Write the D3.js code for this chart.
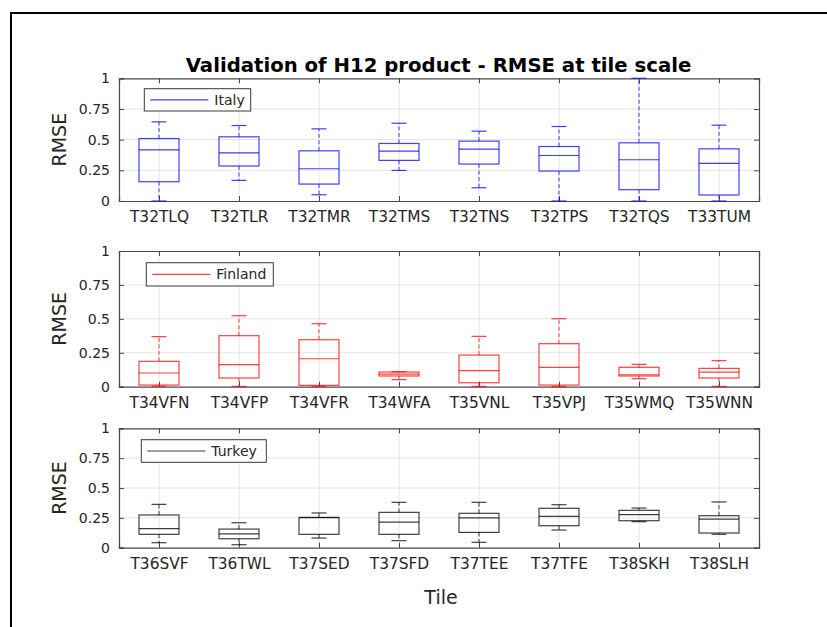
<!DOCTYPE html>
<html>
<head>
<meta charset="utf-8">
<script src="https://cdn.jsdelivr.net/npm/d3@7/dist/d3.min.js"></script>
<style>
  html, body { margin: 0; padding: 0; background: #fff; }
  svg { display: block; font-family: "DejaVu Sans", sans-serif; }
</style>
</head>
<body>
<script>
// ---------------- DATA ----------------
const titleText = "Validation of H12 product - RMSE at tile scale";
const yLabel = "RMSE";
const xLabel = "Tile";
const yTicks = [0, 0.25, 0.5, 0.75, 1];
const yTickLabels = ["0", "0.25", "0.5", "0.75", "1"];

const italyTiles = ["T32TLQ", "T32TLR", "T32TMR", "T32TMS", "T32TNS", "T32TPS", "T32TQS", "T33TUM"];
// [lower whisker, Q1, median, Q3, upper whisker]
const italyStats = [
  [0.00, 0.157, 0.417, 0.509, 0.645],
  [0.168, 0.285, 0.393, 0.523, 0.615],
  [0.051, 0.138, 0.263, 0.409, 0.588],
  [0.249, 0.331, 0.407, 0.469, 0.634],
  [0.108, 0.301, 0.423, 0.488, 0.569],
  [0.00, 0.244, 0.371, 0.444, 0.607],
  [0.00, 0.092, 0.336, 0.474, 1.00],
  [0.00, 0.049, 0.306, 0.425, 0.618]
];

const finlandTiles = ["T34VFN", "T34VFP", "T34VFR", "T34WFA", "T35VNL", "T35VPJ", "T35WMQ", "T35WNN"];
const finlandStats = [
  [0.004, 0.012, 0.101, 0.187, 0.369],
  [0.002, 0.064, 0.162, 0.376, 0.523],
  [0.003, 0.010, 0.206, 0.346, 0.464],
  [0.052, 0.079, 0.093, 0.108, 0.110],
  [0.002, 0.029, 0.118, 0.233, 0.371],
  [0.002, 0.012, 0.143, 0.317, 0.501],
  [0.059, 0.079, 0.088, 0.143, 0.165],
  [0.002, 0.064, 0.108, 0.135, 0.192]
];

const turkeyTiles = ["T36SVF", "T36TWL", "T37SED", "T37SFD", "T37TEE", "T37TFE", "T38SKH", "T38SLH"];
const turkeyStats = [
  [0.042, 0.112, 0.159, 0.274, 0.363],
  [0.025, 0.075, 0.115, 0.156, 0.209],
  [0.081, 0.112, 0.251, 0.254, 0.291],
  [0.059, 0.112, 0.215, 0.296, 0.380],
  [0.045, 0.128, 0.249, 0.288, 0.380],
  [0.148, 0.184, 0.263, 0.330, 0.360],
  [0.218, 0.226, 0.277, 0.313, 0.332],
  [0.112, 0.123, 0.240, 0.268, 0.383]
];

const countries = ["Italy", "Finland", "Turkey"];

// ---------------- LAYOUT / STYLE ----------------
const W = 827, H = 627;
const panels = [
  { tiles: italyTiles, stats: italyStats, name: countries[0], color: "#0000ff", top: 78.3, bottom: 201,
    legend: { x: 144.3, y: 88.7, w: 106.4, h: 22.3 } },
  { tiles: finlandTiles, stats: finlandStats, name: countries[1], color: "#ff0000", top: 251, bottom: 386.7,
    legend: { x: 146.3, y: 262.7, w: 127, h: 23.3 } },
  { tiles: turkeyTiles, stats: turkeyStats, name: countries[2], color: "#000000", top: 428.3, bottom: 547.7,
    legend: { x: 141.3, y: 439.7, w: 125, h: 22.6 } }
];
const xLeft = 119, xRight = 759;
const axisColor = "#4a4a4a";
const textColor = "#262626";
const gridColor = "#e4e4e4";

const svg = d3.select("body").append("svg").attr("width", W).attr("height", H);
svg.append("rect").attr("width", W).attr("height", H).attr("fill", "#fff");

// figure frame
svg.append("rect").attr("x", 11).attr("y", 13).attr("width", 840).attr("height", 640)
  .attr("fill", "none").attr("stroke", "#000").attr("stroke-width", 2);

panels.forEach((p, pi) => {
  const x = d3.scalePoint().domain(p.tiles).range([xLeft, xRight]).padding(0.5);
  const y = d3.scaleLinear().domain([0, 1]).range([p.bottom, p.top]);
  const g = svg.append("g");

  // grid
  g.append("g").selectAll("line").data(yTicks.slice(1, -1)).join("line")
    .attr("x1", xLeft).attr("x2", xRight).attr("y1", d => y(d)).attr("y2", d => y(d))
    .attr("stroke", gridColor).attr("stroke-width", 1);
  g.append("g").selectAll("line").data(p.tiles).join("line")
    .attr("x1", d => x(d)).attr("x2", d => x(d)).attr("y1", p.top).attr("y2", p.bottom)
    .attr("stroke", gridColor).attr("stroke-width", 1);

  // axes
  const yAxisL = d3.axisLeft(y).tickValues(yTicks).tickFormat((d, i) => yTickLabels[i]).tickSize(-5).tickPadding(9);
  const yAxisR = d3.axisRight(y).tickValues(yTicks).tickFormat("").tickSize(-5);
  const xAxisB = d3.axisBottom(x).tickSize(-5).tickPadding(10);
  const xAxisT = d3.axisTop(x).tickFormat("").tickSize(-5);

  const gl = g.append("g").attr("transform", `translate(${xLeft},0)`).call(yAxisL);
  const gr = g.append("g").attr("transform", `translate(${xRight},0)`).call(yAxisR);
  const gb = g.append("g").attr("transform", `translate(0,${p.bottom})`).call(xAxisB);
  const gt = g.append("g").attr("transform", `translate(0,${p.top})`).call(xAxisT);
  [gl, gr, gb, gt].forEach(a => {
    a.select(".domain").attr("stroke", axisColor).attr("stroke-width", 1.2);
    a.selectAll(".tick line").attr("stroke", axisColor).attr("stroke-width", 1);
  });
  gl.selectAll(".tick text").attr("font-size", 14).attr("fill", textColor).attr("font-family", "DejaVu Sans");
  gb.selectAll(".tick text").attr("font-size", 15.4).attr("fill", textColor).attr("font-family", "DejaVu Sans")
    .attr("dy", "0.71em");

  // y label
  g.append("text")
    .attr("transform", `translate(65.5,${(p.top + p.bottom) / 2}) rotate(-90)`)
    .attr("text-anchor", "middle").attr("font-size", 19).attr("fill", textColor)
    .text(yLabel);

  // box plots
  const halfBox = 20, halfCap = 7.5;
  const boxes = g.append("g").selectAll("g").data(p.tiles.map((t, i) => ({ t, s: p.stats[i] }))).join("g");
  boxes.each(function (d) {
    const b = d3.select(this);
    const cx = x(d.t);
    const [lo, q1, med, q3, hi] = d.s;
    const col = p.color;
    b.append("line").attr("x1", cx).attr("x2", cx).attr("y1", y(q3)).attr("y2", y(hi))
      .attr("stroke", col).attr("stroke-width", 1).attr("stroke-dasharray", "4,2.5").attr("opacity", 0.75);
    b.append("line").attr("x1", cx).attr("x2", cx).attr("y1", y(q1)).attr("y2", y(lo))
      .attr("stroke", col).attr("stroke-width", 1).attr("stroke-dasharray", "4,2.5").attr("opacity", 0.75);
    b.append("line").attr("x1", cx - halfCap).attr("x2", cx + halfCap).attr("y1", y(hi)).attr("y2", y(hi))
      .attr("stroke", col).attr("stroke-width", 1.2).attr("opacity", 0.75);
    b.append("line").attr("x1", cx - halfCap).attr("x2", cx + halfCap).attr("y1", y(lo)).attr("y2", y(lo))
      .attr("stroke", col).attr("stroke-width", 1.2).attr("opacity", 0.75);
    b.append("rect").attr("x", cx - halfBox).attr("width", 2 * halfBox)
      .attr("y", y(q3)).attr("height", y(q1) - y(q3))
      .attr("fill", "none").attr("stroke", col).attr("stroke-width", 1.2).attr("opacity", 0.75);
    b.append("line").attr("x1", cx - halfBox).attr("x2", cx + halfBox).attr("y1", y(med)).attr("y2", y(med))
      .attr("stroke", col).attr("stroke-width", 1.2).attr("opacity", 0.75);
  });

  // legend
  const L = p.legend;
  const lg = g.append("g");
  lg.append("rect").attr("x", L.x).attr("y", L.y).attr("width", L.w).attr("height", L.h)
    .attr("fill", "#fff").attr("stroke", "#3a3a3a").attr("stroke-width", 1);
  lg.append("line").attr("x1", L.x + 6).attr("x2", L.x + 64).attr("y1", L.y + L.h / 2).attr("y2", L.y + L.h / 2)
    .attr("stroke", p.color).attr("stroke-width", 1.2).attr("opacity", 0.75);
  lg.append("text").attr("x", L.x + 70).attr("y", L.y + L.h / 2 + 5)
    .attr("font-size", 14).attr("fill", textColor).text(p.name);
});

// title
svg.append("text").attr("x", 438.5).attr("y", 72).attr("text-anchor", "middle")
  .attr("font-size", 19.7).attr("font-weight", "bold").attr("fill", "#000").text(titleText);

// x label
svg.append("text").attr("x", 441).attr("y", 604).attr("text-anchor", "middle")
  .attr("font-size", 19).attr("fill", textColor).text(xLabel);
</script>
</body>
</html>
